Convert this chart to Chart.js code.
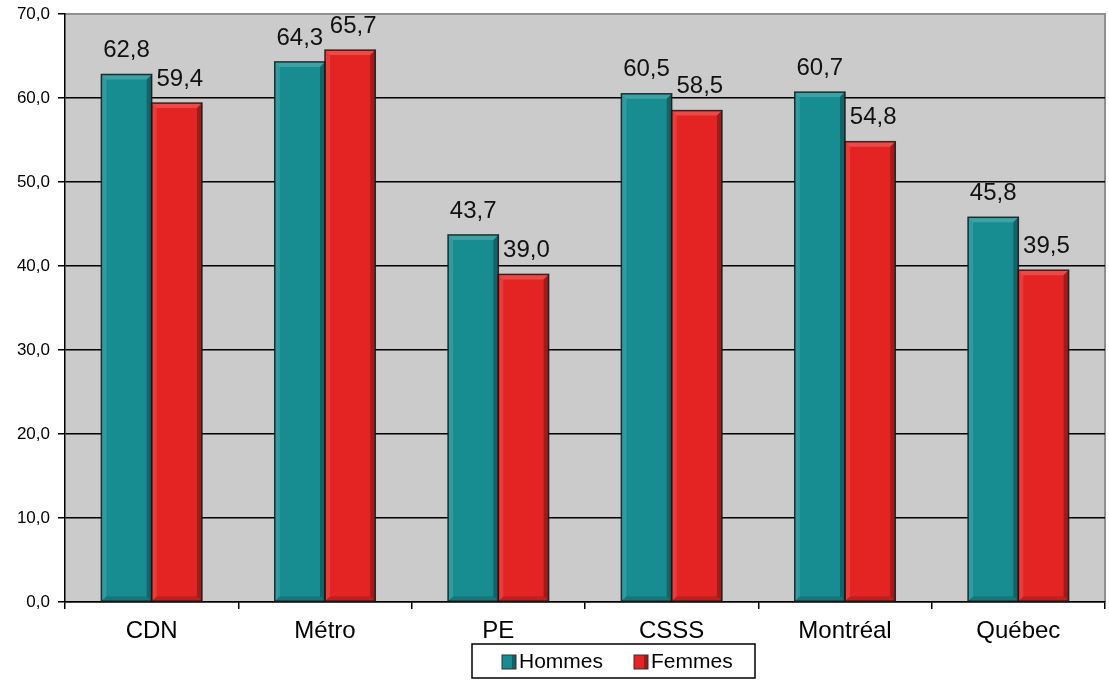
<!DOCTYPE html>
<html>
<head>
<meta charset="utf-8">
<script src="https://cdn.jsdelivr.net/npm/chart.js@4/dist/chart.umd.min.js"></script>
<style>
html,body{margin:0;padding:0;background:#fff;}
#wrap{width:1109px;height:681px;}
</style>
</head>
<body>
<div id="wrap"><canvas id="c" width="1109" height="681"></canvas></div>
<script>
const categories = ["CDN", "Métro", "PE", "CSSS", "Montréal", "Québec"];
const hommes = [62.8, 64.3, 43.7, 60.5, 60.7, 45.8];
const femmes = [59.4, 65.7, 39.0, 58.5, 54.8, 39.5];
const seriesNames = ["Hommes", "Femmes"];
const yTicks = [0, 10, 20, 30, 40, 50, 60, 70];

const TEAL = "#178d92";
const RED = "#e42422";
const FONT = "'Liberation Sans', Arial, sans-serif";
const fmt = v => v.toFixed(1).replace('.', ',');

const bgPlugin = {
  id: 'bg',
  beforeDraw(chart) {
    const {ctx, chartArea: a} = chart;
    ctx.save();
    ctx.fillStyle = '#cbcbcb';
    ctx.fillRect(a.left, a.top, a.right - a.left, a.bottom - a.top);
    ctx.strokeStyle = '#8f8f8f';
    ctx.lineWidth = 2;
    ctx.beginPath();
    ctx.moveTo(a.left, a.top);
    ctx.lineTo(a.right, a.top);
    ctx.lineTo(a.right, a.bottom);
    ctx.stroke();
    ctx.restore();
  }
};

const bevelPlugin = {
  id: 'bevel',
  afterDatasetsDraw(chart) {
    const ctx = chart.ctx;
    ctx.save();
    chart.data.datasets.forEach((ds, di) => {
      const meta = chart.getDatasetMeta(di);
      meta.data.forEach((bar, i) => {
        const l = bar.x - bar.width / 2, r = bar.x + bar.width / 2;
        const t = bar.y, b = bar.base;
        const k = 5;
        ctx.fillStyle = 'rgba(255,255,255,0.18)';
        ctx.beginPath();
        ctx.moveTo(l, t); ctx.lineTo(r, t); ctx.lineTo(r - k, t + k); ctx.lineTo(l + k, t + k); ctx.closePath(); ctx.fill();
        ctx.fillStyle = 'rgba(255,255,255,0.12)';
        ctx.beginPath();
        ctx.moveTo(l, t); ctx.lineTo(l + k, t + k); ctx.lineTo(l + k, b - k); ctx.lineTo(l, b); ctx.closePath(); ctx.fill();
        ctx.fillStyle = 'rgba(0,0,0,0.28)';
        ctx.beginPath();
        ctx.moveTo(r, t); ctx.lineTo(r, b); ctx.lineTo(r - k, b - k); ctx.lineTo(r - k, t + k); ctx.closePath(); ctx.fill();
        ctx.fillStyle = 'rgba(0,0,0,0.15)';
        ctx.beginPath();
        ctx.moveTo(l, b); ctx.lineTo(r, b); ctx.lineTo(r - k, b - k); ctx.lineTo(l + k, b - k); ctx.closePath(); ctx.fill();
        ctx.strokeStyle = 'rgba(20,20,20,0.85)';
        ctx.lineWidth = 1.5;
        ctx.strokeRect(l, t, r - l, b - t);
        ctx.fillStyle = '#111';
        ctx.font = '24px ' + FONT;
        ctx.textAlign = 'center';
        ctx.textBaseline = 'bottom';
        ctx.fillText(fmt(ds.data[i]), bar.x + (di === 1 ? 3 : 0), t - 12);
      });
    });
    ctx.restore();
  }
};

const legendPlugin = {
  id: 'customLegend',
  afterDraw(chart) {
    const ctx = chart.ctx;
    ctx.save();
    const bx = 472, by = 644, bw = 283, bh = 34;
    ctx.fillStyle = '#fff';
    ctx.fillRect(bx, by, bw, bh);
    ctx.strokeStyle = '#000';
    ctx.lineWidth = 1.5;
    ctx.strokeRect(bx, by, bw, bh);
    const items = [[seriesNames[0], TEAL, 502], [seriesNames[1], RED, 634]];
    ctx.font = '21px ' + FONT;
    ctx.textBaseline = 'middle';
    ctx.textAlign = 'left';
    items.forEach(([name, col, x]) => {
      ctx.fillStyle = col;
      ctx.fillRect(x, 655, 14, 14);
      ctx.fillStyle = 'rgba(0,0,0,0.3)';
      ctx.fillRect(x + 10, 655, 4, 14);
      ctx.strokeStyle = '#333';
      ctx.lineWidth = 1;
      ctx.strokeRect(x, 655, 14, 14);
      ctx.fillStyle = '#000';
      ctx.fillText(name, x + 17, 662);
    });
    ctx.restore();
  }
};

new Chart(document.getElementById('c'), {
  type: 'bar',
  data: {
    labels: categories,
    datasets: [
      { label: seriesNames[0], data: hommes, backgroundColor: TEAL, borderWidth: 0,
        categoryPercentage: 0.58, barPercentage: 1.0 },
      { label: seriesNames[1], data: femmes, backgroundColor: RED, borderWidth: 0,
        categoryPercentage: 0.58, barPercentage: 1.0 }
    ]
  },
  options: {
    responsive: false,
    animation: false,
    devicePixelRatio: 1,
    layout: { padding: { top: 14, right: 4, left: 0, bottom: 0 } },
    plugins: { legend: { display: false }, tooltip: { enabled: false } },
    scales: {
      x: {
        grid: { display: true, drawOnChartArea: false, drawTicks: true, tickLength: 7, color: '#000', lineWidth: 1.5, offset: true },
        border: { display: true, color: '#000', width: 1.5 },
        ticks: { color: '#000', font: { family: FONT, size: 24 }, padding: 8, maxRotation: 0 },
        afterFit(scale) { scale.height = 79; scale.paddingLeft = 0; scale.paddingRight = 0; }
      },
      y: {
        min: 0, max: 70,
        afterBuildTicks(scale) { scale.ticks = yTicks.map(v => ({ value: v })); },
        grid: {
          color: ctx => (ctx.tick && ctx.tick.value === 70) ? 'rgba(0,0,0,0)' : '#000',
          tickColor: '#000', lineWidth: 1.5, tickLength: 7, drawTicks: true
        },
        border: { display: true, color: '#000', width: 1.5 },
        ticks: { color: '#000', font: { family: FONT, size: 17 }, padding: 8,
          callback: v => fmt(v) },
        afterFit(scale) { scale.width = 65; scale.paddingTop = 0; scale.paddingBottom = 0; }
      }
    }
  },
  plugins: [bgPlugin, bevelPlugin, legendPlugin]
});
</script>
</body>
</html>
